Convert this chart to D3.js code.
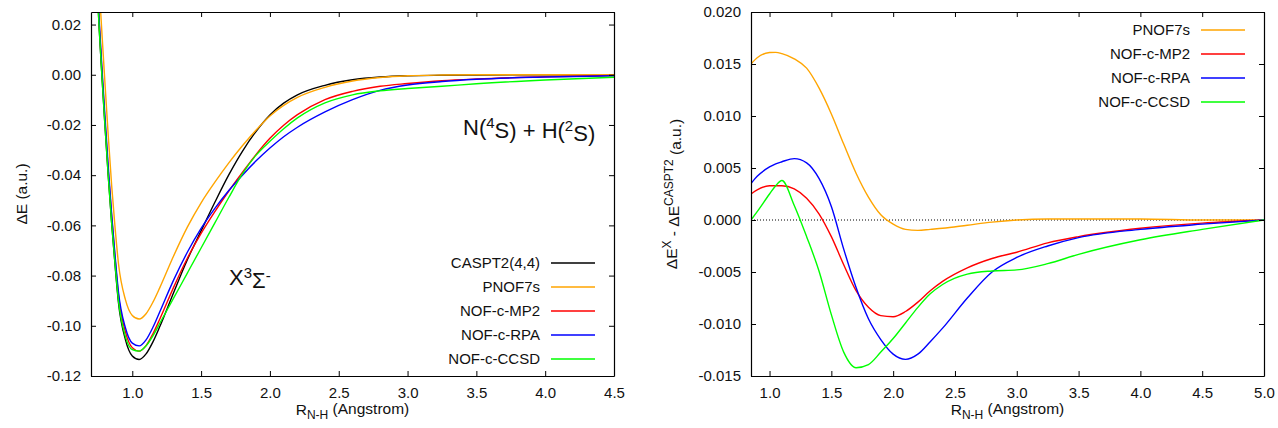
<!DOCTYPE html>
<html>
<head>
<meta charset="utf-8">
<script src="https://cdn.jsdelivr.net/npm/d3@7"></script>
<style>
  html, body { margin: 0; padding: 0; background: #fff; }
  svg { display: block; font-family: "Liberation Sans", Arial, Helvetica, sans-serif; }
</style>
</head>
<body>
<svg id="chart" width="1278" height="428"></svg>
<script>
// ---------------- data: left panel (potential energy curves) ----------------
const R_LEFT = [0.74, 0.76, 0.78, 0.80, 0.825, 0.85, 0.875, 0.90, 0.95, 1.00, 1.05, 1.10, 1.15, 1.20,
  1.30, 1.40, 1.50, 1.60, 1.70, 1.80, 1.90, 2.00, 2.10, 2.20, 2.40, 2.60, 2.80, 3.00, 3.25, 3.50, 4.00, 4.50];
const E_CASPT2 = [0.040, 0.018, -0.001, -0.019, -0.040, -0.059, -0.076, -0.091, -0.1055, -0.1120, -0.1134, -0.1112, -0.1064, -0.1003,
  -0.0868, -0.0737, -0.0622, -0.0508, -0.0400, -0.0305, -0.0225, -0.0160, -0.0113, -0.0080, -0.0042, -0.0020, -0.0009, -0.0004, -0.0002, -0.0001, 0.0000, 0.0000];
const E_PNOF7S = [0.058, 0.035, 0.016, -0.002, -0.024, -0.044, -0.061, -0.0754, -0.0896, -0.0959, -0.0973, -0.0952, -0.0906, -0.0848,
  -0.0722, -0.0607, -0.0510, -0.0428, -0.0352, -0.0283, -0.0220, -0.0164, -0.0122, -0.0090, -0.0050, -0.0025, -0.0011, -0.0004, -0.0001, 0.0000, 0.0000, 0.0000];
const E_MP2 = [0.042, 0.020, 0.001, -0.017, -0.038, -0.0565, -0.0733, -0.0881, -0.1024, -0.1087, -0.1101, -0.1079, -0.1032, -0.0973,
  -0.0847, -0.0731, -0.0632, -0.0545, -0.0464, -0.0389, -0.0317, -0.0253, -0.0201, -0.0159, -0.0099, -0.0066, -0.0046, -0.0035, -0.0024, -0.0017, -0.0008, -0.0003];
const E_RPA = [0.043, 0.021, 0.002, -0.0155, -0.0365, -0.0555, -0.0721, -0.0868, -0.1008, -0.1069, -0.1080, -0.1056, -0.1006, -0.0944,
  -0.0818, -0.0707, -0.0612, -0.0532, -0.0462, -0.0400, -0.0343, -0.0292, -0.0247, -0.0209, -0.0148, -0.0099, -0.0062, -0.0041, -0.0027, -0.0018, -0.0009, -0.0004];
const E_CCSD = [0.040, 0.018, -0.001, -0.019, -0.040, -0.059, -0.0756, -0.0902, -0.1043, -0.1095, -0.1101, -0.1080, -0.1040, -0.0990,
  -0.0890, -0.0790, -0.0690, -0.0590, -0.0490, -0.0395, -0.0320, -0.0265, -0.0215, -0.0172, -0.0112, -0.0080, -0.0064, -0.0055, -0.0046, -0.0036, -0.0021, -0.0010];

// ---------------- data: right panel (differences from CASPT2) ----------------
const R_RIGHT = [0.85, 0.90, 1.00, 1.05, 1.10, 1.20, 1.30, 1.40, 1.50, 1.60, 1.70, 1.80, 1.90, 2.00, 2.10, 2.20, 2.30, 2.40,
  2.60, 2.80, 3.00, 3.25, 3.50, 4.00, 4.50, 5.00];
const D_PNOF7S = [0.0150, 0.0156, 0.0161, 0.01612, 0.0160, 0.0155, 0.0146, 0.0127, 0.0102, 0.0073, 0.0045, 0.0022, 0.0005, -0.0004, -0.0009, -0.0010, -0.0009, -0.0008,
  -0.0005, -0.0002, 0.0000, 0.0001, 0.0001, 0.0001, 0.0000, 0.0000];
const D_MP2 = [0.0025, 0.0029, 0.0033, 0.0033, 0.0033, 0.0030, 0.0021, 0.0006, -0.0016, -0.0043, -0.0068, -0.0084, -0.0092, -0.0093, -0.0088, -0.0079, -0.0068, -0.0059,
  -0.0046, -0.0037, -0.0031, -0.0022, -0.0016, -0.0008, -0.0003, 0.0000];
const D_RPA = [0.0035, 0.0042, 0.0051, 0.0054, 0.0056, 0.0059, 0.0055, 0.0040, 0.0013, -0.0028, -0.0065, -0.0095, -0.0115, -0.0129, -0.0134, -0.0129, -0.0117, -0.0104,
  -0.0075, -0.0050, -0.0036, -0.0025, -0.0017, -0.0009, -0.0004, 0.0000];
const D_CCSD = [0.0000, 0.0008, 0.0025, 0.0033, 0.0038, 0.0014, -0.0016, -0.0049, -0.0091, -0.0127, -0.0142, -0.0139, -0.0127, -0.0114, -0.0099, -0.0084, -0.0071, -0.0062,
  -0.0052, -0.0049, -0.0048, -0.0042, -0.0033, -0.0019, -0.0009, 0.0000];

// ---------------- labels, ticks ----------------
const LEFT_LABELS = ["CASPT2(4,4)", "PNOF7s", "NOF-c-MP2", "NOF-c-RPA", "NOF-c-CCSD"];
const RIGHT_LABELS = ["PNOF7s", "NOF-c-MP2", "NOF-c-RPA", "NOF-c-CCSD"];
const LEFT_COLORS = ["#000000", "#ffa500", "#ff0000", "#0000ff", "#00ff00"];
const RIGHT_COLORS = ["#ffa500", "#ff0000", "#0000ff", "#00ff00"];
const X_TICKS_LEFT = [1.0, 1.5, 2.0, 2.5, 3.0, 3.5, 4.0, 4.5];
const Y_TICKS_LEFT = [-0.12, -0.10, -0.08, -0.06, -0.04, -0.02, 0.00, 0.02];
const X_TICKS_RIGHT = [1.0, 1.5, 2.0, 2.5, 3.0, 3.5, 4.0, 4.5, 5.0];
const Y_TICKS_RIGHT = [-0.015, -0.010, -0.005, 0.000, 0.005, 0.010, 0.015, 0.020];

const svg = d3.select("#chart");
const FONT = 15;
const TICK = 5;

function fmtY(d, p) { return d3.format("." + p + "f")(d).replace("\u2212", "-"); }

function panel(cfg) {
  const x = d3.scaleLinear().domain(cfg.xDomain).range([cfg.x0, cfg.x1]);
  const y = d3.scaleLinear().domain(cfg.yDomain).range([cfg.y1, cfg.y0]);
  const g = svg.append("g");

  const clipId = "clip-" + cfg.id;
  svg.append("clipPath").attr("id", clipId).append("rect")
    .attr("x", cfg.x0).attr("y", cfg.y0).attr("width", cfg.x1 - cfg.x0).attr("height", cfg.y1 - cfg.y0);

  // zero reference line
  if (cfg.zeroLine) {
    g.append("line").attr("x1", x(cfg.xDomain[0])).attr("x2", x(cfg.xDomain[1]))
      .attr("y1", y(0)).attr("y2", y(0))
      .attr("stroke", "#000").attr("stroke-width", 1).attr("stroke-dasharray", "1,2");
  }

  // curves
  const line = d3.line().x(d => x(d[0])).y(d => y(d[1])).curve(d3.curveMonotoneX);
  const cg = g.append("g").attr("clip-path", `url(#${clipId})`);
  cfg.series.forEach((s, i) => {
    cg.append("path").datum(cfg.r.map((r, k) => [r, s[k]]))
      .attr("d", line).attr("fill", "none")
      .attr("stroke", cfg.colors[i]).attr("stroke-width", 1.4)
      .attr("stroke-linejoin", "round");
  });

  // axes
  const bottom = g.append("g").attr("transform", `translate(0,${cfg.y1})`)
    .call(d3.axisBottom(x).tickValues(cfg.xTicks).tickFormat(d3.format(".1f"))
      .tickSize(-TICK).tickSizeOuter(0).tickPadding(11));
  const top = g.append("g").attr("transform", `translate(0,${cfg.y0})`)
    .call(d3.axisTop(x).tickValues(cfg.xTicks).tickFormat("").tickSize(-TICK).tickSizeOuter(0));
  const left = g.append("g").attr("transform", `translate(${cfg.x0},0)`)
    .call(d3.axisLeft(y).tickValues(cfg.yTicks).tickFormat(d => fmtY(d, cfg.yPrec))
      .tickSize(-TICK).tickSizeOuter(0).tickPadding(10));
  const right = g.append("g").attr("transform", `translate(${cfg.x1},0)`)
    .call(d3.axisRight(y).tickValues(cfg.yTicks).tickFormat("").tickSize(-TICK).tickSizeOuter(0));
  [bottom, top, left, right].forEach(a => {
    a.attr("font-family", null).attr("font-size", null);
    a.selectAll("path.domain").attr("stroke", "#000").attr("stroke-width", 1.2);
    a.selectAll(".tick line").attr("stroke", "#000").attr("stroke-width", 1);
    a.selectAll(".tick text").attr("fill", "#111").style("font-size", FONT + "px");
  });

  // legend
  cfg.labels.forEach((lab, i) => {
    const yy = cfg.legendY0 + i * 24;
    g.append("text").attr("x", cfg.legendTextX).attr("y", yy).attr("dy", "0.35em")
      .attr("text-anchor", "end").attr("fill", "#111").style("font-size", FONT + "px").text(lab);
    g.append("line").attr("x1", cfg.legendTextX + 11).attr("x2", cfg.legendTextX + 55)
      .attr("y1", yy).attr("y2", yy).attr("stroke", cfg.colors[i]).attr("stroke-width", 1.5);
  });

  // x title with subscript
  const xt = g.append("text").attr("x", (cfg.x0 + cfg.x1) / 2).attr("y", 415)
    .attr("text-anchor", "middle").attr("fill", "#111").style("font-size", "15.5px");
  xt.append("tspan").text("R");
  xt.append("tspan").attr("dy", "0.3em").style("font-size", "12px").text("N-H");
  xt.append("tspan").attr("dy", "-0.3em").text(" (Angstrom)");

  return { x, y, g };
}

const L = panel({
  id: "left", x0: 91, x1: 614, y0: 12, y1: 376,
  xDomain: [0.7, 4.5], yDomain: [-0.12, 0.025],
  xTicks: X_TICKS_LEFT, yTicks: Y_TICKS_LEFT, yPrec: 2,
  r: R_LEFT, series: [E_CASPT2, E_PNOF7S, E_MP2, E_RPA, E_CCSD],
  colors: LEFT_COLORS, labels: LEFT_LABELS,
  legendTextX: 540, legendY0: 263, zeroLine: false
});

const Rp = panel({
  id: "right", x0: 751, x1: 1264, y0: 12, y1: 376,
  xDomain: [0.85, 5.0], yDomain: [-0.015, 0.020],
  xTicks: X_TICKS_RIGHT, yTicks: Y_TICKS_RIGHT, yPrec: 3,
  r: R_RIGHT, series: [D_PNOF7S, D_MP2, D_RPA, D_CCSD],
  colors: RIGHT_COLORS, labels: RIGHT_LABELS,
  legendTextX: 1190, legendY0: 30, zeroLine: true
});

// y titles
svg.append("text").attr("transform", "translate(27,194) rotate(-90)")
  .attr("text-anchor", "middle").attr("fill", "#111").style("font-size", "15.5px").text("\u0394E (a.u.)");

const yr = svg.append("text").attr("transform", "translate(677,194) rotate(-90)")
  .attr("text-anchor", "middle").attr("fill", "#111").style("font-size", "15.5px");
yr.append("tspan").text("\u0394E");
yr.append("tspan").attr("dy", "-0.5em").style("font-size", "12px").text("X");
yr.append("tspan").attr("dy", "0.5em").text(" - \u0394E");
yr.append("tspan").attr("dy", "-0.5em").style("font-size", "12px").text("CASPT2");
yr.append("tspan").attr("dy", "0.5em").text(" (a.u.)");

// annotations
const a1 = svg.append("text").attr("x", 229).attr("y", 285).attr("fill", "#111").style("font-size", "22px");
a1.append("tspan").text("X");
a1.append("tspan").attr("dy", "-0.45em").style("font-size", "15px").text("3");
a1.append("tspan").attr("dy", "0.45em").text("\u03A3");
a1.append("tspan").attr("dy", "-0.45em").style("font-size", "15px").text("-");

const a2 = svg.append("text").attr("x", 463).attr("y", 135).attr("fill", "#111").style("font-size", "22px");
a2.append("tspan").text("N(");
a2.append("tspan").attr("dy", "-0.45em").style("font-size", "15px").text("4");
a2.append("tspan").attr("dy", "0.45em").text("S) + H(");
a2.append("tspan").attr("dy", "-0.45em").style("font-size", "15px").text("2");
a2.append("tspan").attr("dy", "0.45em").text("S)");
</script>
</body>
</html>
